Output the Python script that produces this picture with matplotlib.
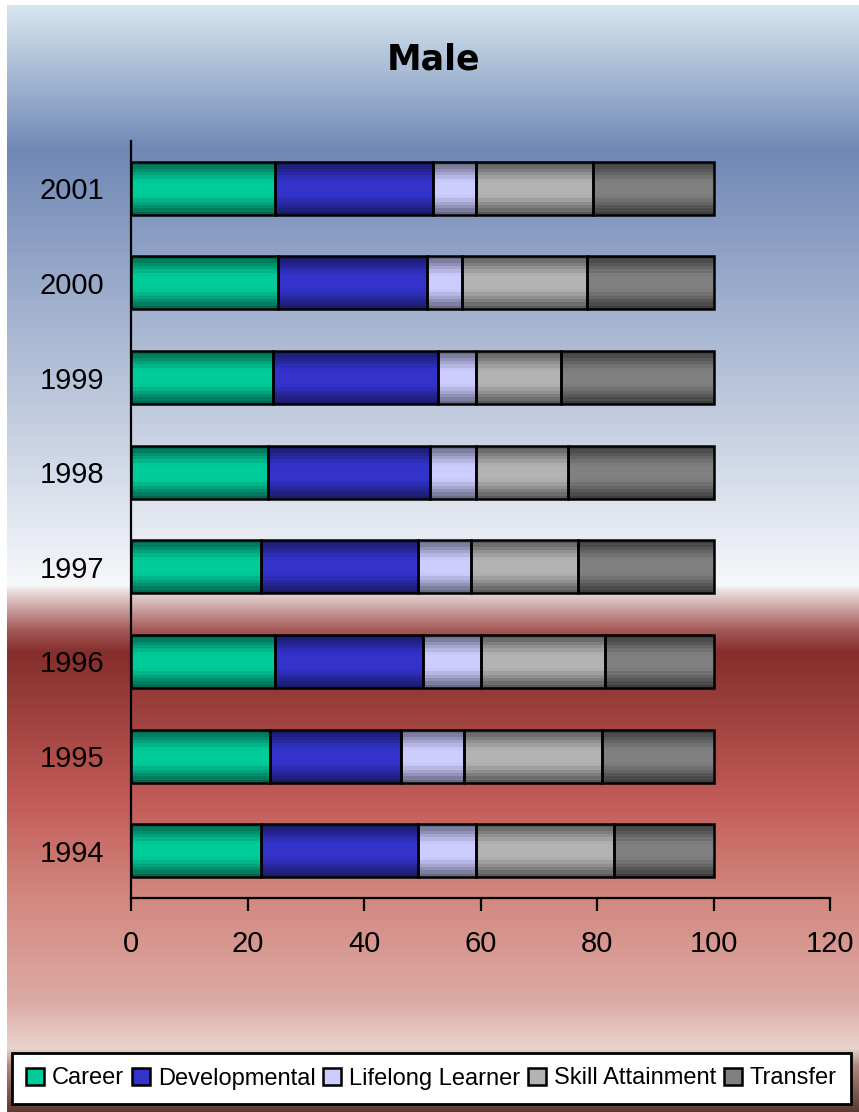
import matplotlib
matplotlib.use('Agg')
import matplotlib.pyplot as plt
import numpy as np
from matplotlib.colors import to_rgb
from matplotlib.patches import Patch

# data (percent of students, male)
years = ['1994', '1995', '1996', '1997', '1998', '1999', '2000', '2001']
career = [22.3, 23.9, 24.8, 22.3, 23.6, 24.4, 25.2, 24.8]
developmental = [27.0, 22.5, 25.3, 27.0, 27.7, 28.3, 25.7, 27.0]
lifelong = [10.0, 10.8, 10.0, 9.1, 8.0, 6.6, 5.9, 7.5]
skill = [23.6, 23.7, 21.2, 18.3, 15.8, 14.5, 21.5, 20.0]
transfer = [17.1, 19.1, 18.7, 23.3, 24.9, 26.2, 21.7, 20.7]

series = [('Career', career), ('Developmental', developmental),
          ('Lifelong Learner', lifelong), ('Skill Attainment', skill),
          ('Transfer', transfer)]
# (center colour, edge colour) of the cylinder-like shading
shades = [('#00cc99', '#005c46'), ('#3333cc', '#17175e'), ('#ccccff', '#5e5e78'),
          ('#b3b3b3', '#505050'), ('#808080', '#363636')]

W, H = 859, 1112
fig = plt.figure(figsize=(W / 100, H / 100), dpi=100, facecolor='white')

# background gradient (pixel rows from the top of the figure)
stops = [(5, '#d8e6f0'), (149, '#7088b5'), (585, '#f7f8fb'), (589, '#eee2e2'),
         (630, '#a35856'), (652, '#852e2c'), (801, '#c25c58'), (898, '#d38880'),
         (1000, '#dcaaa4'), (1048, '#e8d4cc'), (1065, '#b08880'), (1112, '#5a3830')]
rows = np.arange(5, H)
sy = [s[0] for s in stops]
sc = np.array([to_rgb(s[1]) for s in stops])
grad = np.stack([np.interp(rows, sy, sc[:, k]) for k in range(3)], axis=-1)[:, None, :]
bg = fig.add_axes([7 / W, 0, 1 - 7 / W, (H - 5) / H], zorder=-5)
bg.imshow(grad, aspect='auto', extent=[0, 1, 0, 1])
bg.axis('off')

ax = fig.add_axes([131 / W, 1 - 898 / H, (830 - 131) / W, (898 - 141) / H])
ax.patch.set_alpha(0)

ypos = np.arange(len(years))
bar_h = 0.56
t = (np.arange(16) + 0.5) / 16
profile = np.clip((0.5 - np.abs(t - 0.5)) / 0.36, 0, 1) ** 0.9

left = np.zeros(len(years))
for (name, vals), (cc, ec) in zip(series, shades):
    vals = np.array(vals)
    bars = ax.barh(ypos, vals, left=left, height=bar_h, color='none',
                   edgecolor='black', linewidth=1.8, label=name, zorder=3)
    c1, c0 = np.array(to_rgb(cc)), np.array(to_rgb(ec))
    img = np.repeat((c0 + (c1 - c0) * profile[:, None])[:, None, :], 2, axis=1)
    for b in bars:
        x0, y0 = b.get_x(), b.get_y()
        ax.imshow(img, aspect='auto', interpolation='nearest',
                  extent=[x0, x0 + b.get_width(), y0, y0 + b.get_height()],
                  zorder=2)
    left += vals

ax.set_xlim(0, 120)
ax.set_ylim(-0.5, len(years) - 0.5)
ax.set_xticks(range(0, 121, 20))
ax.set_yticks(ypos)
ax.set_yticklabels(years)
for s in ['top', 'right']:
    ax.spines[s].set_visible(False)
for s in ['left', 'bottom']:
    ax.spines[s].set_linewidth(1.6)
ax.tick_params(axis='x', direction='out', length=9, width=1.6, pad=14,
               labelsize=21)
ax.tick_params(axis='y', length=0, pad=19, labelsize=21)
for lab in ax.get_xticklabels() + ax.get_yticklabels():
    lab.set_family('Liberation Sans')

fig.text(434 / W, 1 - 60 / H, 'Male', ha='center', va='center',
         fontsize=25, fontweight='bold', family='DejaVu Sans')

handles = [Patch(facecolor=cc, edgecolor='black', linewidth=1.8, label=n)
           for (n, _), (cc, ec) in zip(series, shades)]
leg = fig.legend(handles=handles, loc='center', ncol=5, mode='expand',
                 bbox_to_anchor=(12 / W, 1 - 1106 / H, (851 - 12) / W, 55 / H),
                 fancybox=False, framealpha=1, edgecolor='black',
                 handlelength=0.75, handleheight=0.75, handletextpad=0.35,
                 columnspacing=0.5, borderaxespad=0, borderpad=0.6,
                 prop={'family': 'Liberation Sans', 'size': 17})
leg.get_frame().set_linewidth(2)

fig.savefig('out.png', dpi=100)
